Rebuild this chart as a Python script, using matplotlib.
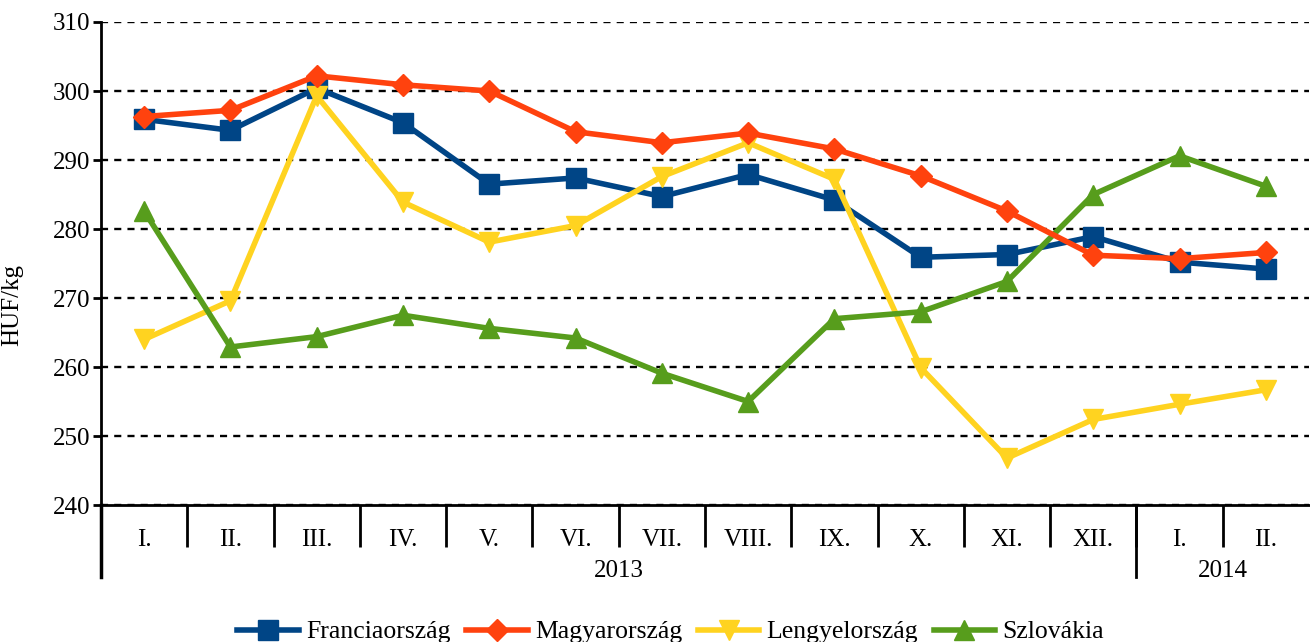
import matplotlib.pyplot as plt
import matplotlib.transforms as mtransforms
import numpy as np

plt.rcParams['font.family'] = ['Liberation Serif', 'DejaVu Serif']

honapok = ['I.', 'II.', 'III.', 'IV.', 'V.', 'VI.', 'VII.', 'VIII.', 'IX.', 'X.', 'XI.', 'XII.', 'I.', 'II.']
evek = ['2013', '2014']
ev_hossz = [12, 2]

francia = [295.9, 294.3, 300.4, 295.4, 286.5, 287.4, 284.7, 287.9, 284.2, 275.9, 276.3, 278.9, 275.2, 274.2]
magyar = [296.3, 297.2, 302.2, 300.9, 300.0, 294.1, 292.5, 293.9, 291.6, 287.7, 282.6, 276.2, 275.7, 276.6]
lengyel = [264.0, 269.6, 299.3, 283.9, 278.1, 280.5, 287.6, 292.5, 287.2, 259.9, 246.8, 252.4, 254.6, 256.7]
szlovak = [282.6, 262.9, 264.4, 267.5, 265.6, 264.2, 259.1, 255.0, 267.0, 268.0, 272.4, 285.0, 290.6, 286.2]

fig = plt.figure(figsize=(13.1, 6.42), dpi=100)
ax = fig.add_axes([101/1310, 1 - 505/642, 1208/1310, 483/642])

x = np.arange(len(honapok))
ax.plot(x, francia, color='#004586', lw=4, marker='s', ms=14, label='Franciaország', zorder=3)
ax.plot(x, magyar, color='#ff420e', lw=4, marker='D', ms=11, label='Magyarország', zorder=4)
ax.plot(x, lengyel, color='#ffd320', lw=4, marker='v', ms=14.5, label='Lengyelország', zorder=3)
ax.plot(x, szlovak, color='#579d1c', lw=4, marker='^', ms=14.5, label='Szlovákia', zorder=3)

ax.set_xlim(-0.5, len(honapok) - 0.5)
ax.set_ylim(240, 310)
ax.set_yticks(np.arange(240, 311, 10))
ax.yaxis.grid(True, color='black', ls=(0, (3, 2.6)), lw=1.7)
ax.set_axisbelow(True)
ax.tick_params(axis='y', labelsize=18, length=6, width=2, direction='out', pad=2)

for s in ['top', 'right']:
    ax.spines[s].set_visible(False)
ax.spines['left'].set_linewidth(2)
ax.spines['bottom'].set_linewidth(2)

# honap feliratok + elvalasztok
ax.set_xticks(x)
ax.set_xticklabels(honapok, fontsize=18)
ax.tick_params(axis='x', length=0, pad=17)
ax.set_xticks(np.arange(0.5, len(honapok) - 0.5), minor=True)
ax.tick_params(axis='x', which='minor', length=30, width=2, direction='out')

trans = mtransforms.blended_transform_factory(ax.transData, ax.transAxes)
lo = -72 / 483
ax.plot([-0.5, -0.5], [0, lo], transform=trans, color='black', lw=2.5, clip_on=False)
start = 0
for ev, n in zip(evek, ev_hossz):
    ax.text(start + (n - 1) / 2, -66 / 483, ev, transform=trans, ha='center', va='center', fontsize=18)
    start += n
    if start < len(honapok):
        ax.plot([start - 0.5, start - 0.5], [0, lo], transform=trans, color='black', lw=2, clip_on=False)

ax.set_ylabel('HUF/kg', fontsize=18)
ax.yaxis.set_label_coords(-78 / 1208, (505 - 305) / 483)

fig.legend(loc='center', bbox_to_anchor=(0.512, 1 - 632 / 642), ncol=4, frameon=False,
           fontsize=18.5, handlelength=2.4, columnspacing=0.6, handletextpad=0.28)

fig.savefig('out.png', dpi=100)
